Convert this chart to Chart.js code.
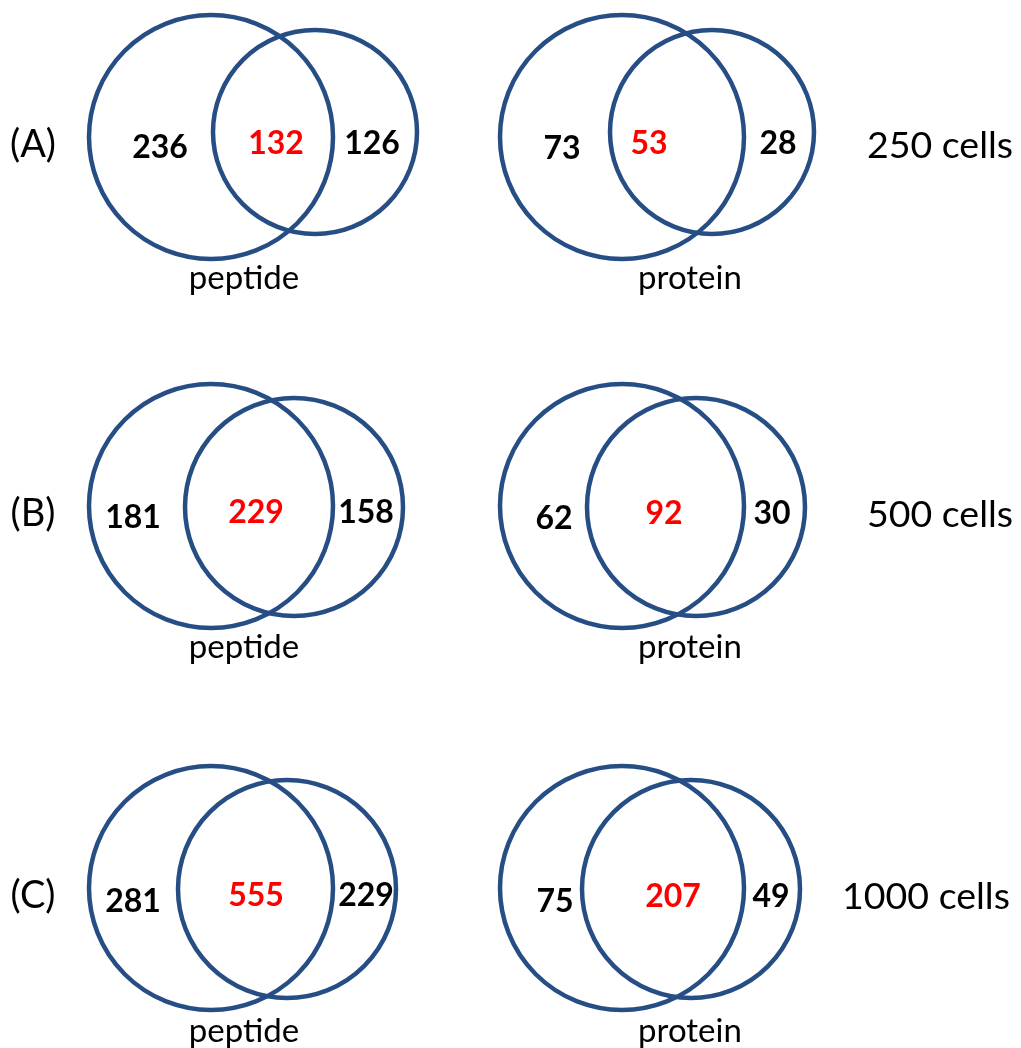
<!DOCTYPE html>
<html>
<head>
<meta charset="utf-8">
<title>Peptide and protein overlap by cell number</title>
<script src="https://cdn.jsdelivr.net/npm/chart.js@4.4.1/dist/chart.umd.min.js"></script>
<style>
  html, body { margin: 0; padding: 0; background: #ffffff; }
  #wrap { width: 1021px; height: 1048px; }
</style>
</head>
<body>
<div id="wrap"><canvas id="venn" width="1021" height="1048"></canvas></div>
<script>
// ---- data ----
const rowLabels = ['(A)', '(B)', '(C)'];
const cellNumbers = [250, 500, 1000];
const setNames = ['peptide', 'protein'];

// counts: only in first run / shared / only in second run
const peptideLeft  = [236, 181, 281];
const peptideBoth  = [132, 229, 555];
const peptideRight = [126, 158, 229];
const proteinLeft  = [73, 62, 75];
const proteinBoth  = [53, 92, 207];
const proteinRight = [28, 30, 49];

// ---- layout (canvas units) ----
const rowY = [137, 506, 888];            // centre line of each row
const panelX = [211, 622];               // centre of the larger circle per panel
// second circle of each panel: [dx, dy, r] relative to the larger circle
const secondCircle = [
  [[104, -5, 102], [90, -5, 102]],
  [[83, 1, 109], [74, 1, 109]],
  [[76, 1, 109], [69, 1, 109]]
];
const bigRadius = 122;

const counts = [
  [peptideLeft, peptideBoth, peptideRight],
  [proteinLeft, proteinBoth, proteinRight]
];

// label offsets for the three region counts (relative to the larger circle centre)
const regionLabelX = [
  [[-51, 65, 161], [-60, 27, 156]],
  [[-78, 45, 155], [-68, 42, 150]],
  [[-78, 45, 155], [-67, 51, 149]]
];
const regionLabelDy = [
  [[11, 7, 7], [12, 7, 7]],
  [[12, 7, 7], [13, 8, 8]],
  [[14, 8, 8], [14, 9, 9]]
];

const circleColor = '#264e85';
const FONT = 'Lato, "Open Sans", "DejaVu Sans", sans-serif';

// Build bubble points for every circle
const circles = [];
rowY.forEach((cy, row) => {
  panelX.forEach((cx, p) => {
    circles.push({ x: cx, y: cy, r: bigRadius });
    const s = secondCircle[row][p];
    circles.push({ x: cx + s[0], y: cy + s[1], r: s[2] });
  });
});

// Plugin drawing the region counts, set names and row captions
const vennText = {
  id: 'vennText',
  afterDatasetsDraw(chart) {
    const { ctx, scales: { x, y } } = chart;
    ctx.save();
    ctx.textAlign = 'center';
    ctx.textBaseline = 'middle';
    rowY.forEach((cy, row) => {
      // row caption on the left
      ctx.fillStyle = '#000000';
      ctx.font = '38px ' + FONT;
      ctx.fillText(rowLabels[row], x.getPixelForValue(33), y.getPixelForValue(cy + 8));
      // cell number on the right
      ctx.font = '37.5px ' + FONT;
      ctx.fillText(cellNumbers[row] + ' cells', x.getPixelForValue(row === 2 ? 926 : 940), y.getPixelForValue(cy + 9));

      panelX.forEach((cx, p) => {
        const set = counts[p];
        ctx.font = 'bold 32px ' + FONT;
        for (let k = 0; k < 3; k++) {
          ctx.fillStyle = k === 1 ? '#ff0000' : '#000000';
          ctx.fillText(String(set[k][row]),
            x.getPixelForValue(cx + regionLabelX[row][p][k]),
            y.getPixelForValue(cy + regionLabelDy[row][p][k]));
        }
        ctx.fillStyle = '#000000';
        ctx.font = '33px ' + FONT;
        ctx.fillText(setNames[p], x.getPixelForValue(cx + (p === 0 ? 33 : 68)), y.getPixelForValue(cy + (row === 2 ? 143 : 141)));
      });
    });
    ctx.restore();
  }
};

new Chart(document.getElementById('venn'), {
  type: 'bubble',
  data: {
    datasets: [{
      data: circles,
      backgroundColor: 'rgba(0,0,0,0)',
      borderColor: circleColor,
      borderWidth: 4.5,
      hoverBorderWidth: 4.5,
      clip: false
    }]
  },
  options: {
    responsive: false,
    animation: false,
    events: [],
    layout: { padding: 0, autoPadding: false },
    plugins: { legend: { display: false }, tooltip: { enabled: false } },
    scales: {
      x: { type: 'linear', min: 0, max: 1021, display: false },
      y: { type: 'linear', min: 0, max: 1048, reverse: true, display: false }
    }
  },
  plugins: [vennText]
});
</script>
</body>
</html>
